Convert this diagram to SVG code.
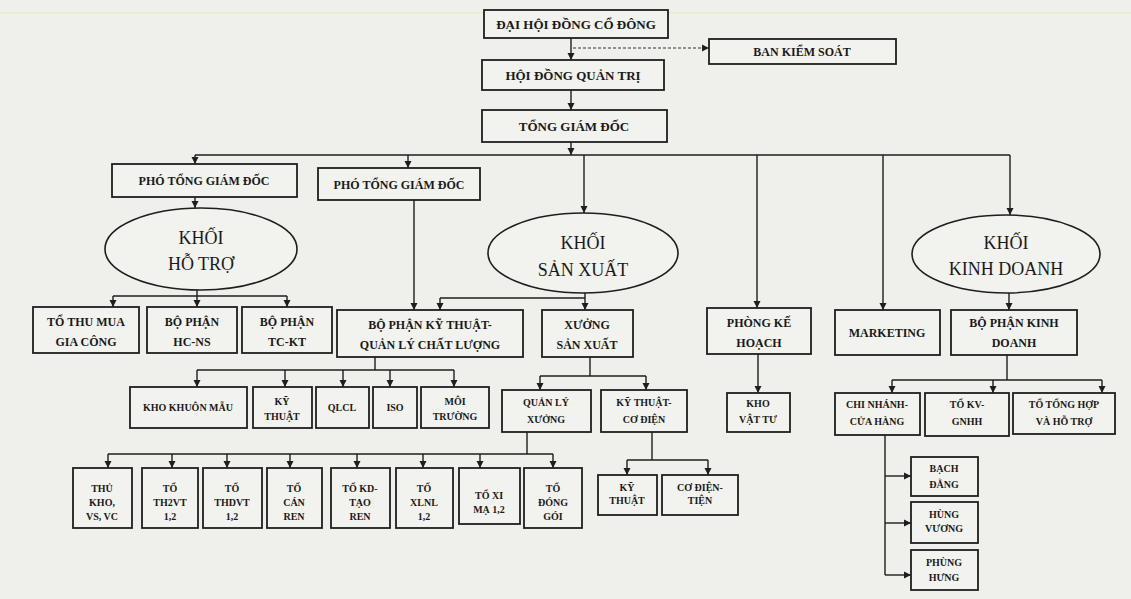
<svg xmlns="http://www.w3.org/2000/svg" width="1131" height="599" viewBox="0 0 1131 599">
<defs>
<style>
.bg{fill:#efefeb}
.box{fill:#f2f2ef;stroke:#1e1e1e;stroke-width:1.8}
.ell{fill:#f2f2ef;stroke:#1e1e1e;stroke-width:1.6}
.c{fill:none;stroke:#1e1e1e;stroke-width:1.4}
.a{fill:none;stroke:#1e1e1e;stroke-width:1.4;marker-end:url(#ah)}
.d{fill:none;stroke:#333;stroke-width:1.2;stroke-dasharray:3 2;marker-end:url(#ah)}
text{font-family:"Liberation Serif","DejaVu Serif",serif;font-weight:bold;text-anchor:middle;fill:#1a1a1a}
.t13{font-size:13px}
.t12{font-size:12px}
.t11{font-size:11px}
.t10{font-size:10px}
.e{font-size:18px;font-weight:normal}
</style>
<marker id="ah" markerWidth="8" markerHeight="8" refX="7" refY="4" orient="auto" markerUnits="userSpaceOnUse">
<path d="M0,0.5 L7,4 L0,7.5 z" fill="#1e1e1e"/>
</marker>
</defs>
<rect class="bg" x="0" y="0" width="1131" height="599"/>
<line x1="0" y1="13" x2="1131" y2="13" stroke="#ecebc8" stroke-width="1.5"/>

<g id="connectors">
<line class="a" x1="571" y1="38" x2="571" y2="60"/>
<line class="d" x1="573" y1="48" x2="709" y2="48"/>
<line class="a" x1="571" y1="90" x2="571" y2="110"/>
<line class="a" x1="571" y1="142" x2="571" y2="155"/>
<line class="c" x1="195" y1="155" x2="1010" y2="155"/>
<line class="a" x1="195" y1="155" x2="195" y2="164"/>
<line class="a" x1="408" y1="155" x2="408" y2="168"/>
<line class="a" x1="584" y1="155" x2="584" y2="213"/>
<line class="a" x1="757" y1="155" x2="757" y2="308"/>
<line class="a" x1="883" y1="155" x2="883" y2="310"/>
<line class="a" x1="1010" y1="155" x2="1010" y2="215"/>
<line class="a" x1="195" y1="197" x2="195" y2="208"/>
<line class="c" x1="197" y1="290" x2="197" y2="296"/>
<line class="c" x1="113" y1="296" x2="287" y2="296"/>
<line class="a" x1="113" y1="296" x2="113" y2="307"/>
<line class="a" x1="197" y1="296" x2="197" y2="307"/>
<line class="a" x1="287" y1="296" x2="287" y2="307"/>
<line class="a" x1="414" y1="200" x2="414" y2="310"/>
<line class="c" x1="585" y1="293" x2="585" y2="298"/>
<line class="c" x1="440" y1="298" x2="585" y2="298"/>
<line class="a" x1="440" y1="298" x2="440" y2="310"/>
<line class="a" x1="585" y1="298" x2="585" y2="310"/>
<line class="c" x1="375" y1="357" x2="375" y2="370"/>
<line class="c" x1="197" y1="370" x2="454" y2="370"/>
<line class="a" x1="197" y1="370" x2="197" y2="387"/>
<line class="a" x1="285" y1="370" x2="285" y2="387"/>
<line class="a" x1="343" y1="370" x2="343" y2="387"/>
<line class="a" x1="390" y1="370" x2="390" y2="387"/>
<line class="a" x1="454" y1="370" x2="454" y2="387"/>
<line class="c" x1="590" y1="357" x2="590" y2="376"/>
<line class="c" x1="540" y1="376" x2="646" y2="376"/>
<line class="a" x1="540" y1="376" x2="540" y2="390"/>
<line class="a" x1="646" y1="376" x2="646" y2="390"/>
<line class="c" x1="527" y1="432" x2="527" y2="454"/>
<line class="c" x1="108" y1="454" x2="553" y2="454"/>
<line class="a" x1="108" y1="454" x2="108" y2="468"/>
<line class="a" x1="172" y1="454" x2="172" y2="468"/>
<line class="a" x1="227" y1="454" x2="227" y2="468"/>
<line class="a" x1="290" y1="454" x2="290" y2="468"/>
<line class="a" x1="357" y1="454" x2="357" y2="468"/>
<line class="a" x1="423" y1="454" x2="423" y2="468"/>
<line class="a" x1="480" y1="454" x2="480" y2="468"/>
<line class="a" x1="553" y1="454" x2="553" y2="468"/>
<line class="c" x1="652" y1="432" x2="652" y2="460"/>
<line class="c" x1="627" y1="460" x2="708" y2="460"/>
<line class="a" x1="627" y1="460" x2="627" y2="475"/>
<line class="a" x1="708" y1="460" x2="708" y2="475"/>
<line class="a" x1="758" y1="354" x2="758" y2="393"/>
<line class="a" x1="1009" y1="293" x2="1009" y2="310"/>
<line class="c" x1="1007" y1="355" x2="1007" y2="380"/>
<line class="c" x1="892" y1="380" x2="1102" y2="380"/>
<line class="a" x1="892" y1="380" x2="892" y2="393"/>
<line class="a" x1="993" y1="380" x2="993" y2="393"/>
<line class="a" x1="1102" y1="380" x2="1102" y2="393"/>
<line class="c" x1="885" y1="435" x2="885" y2="575"/>
<line class="a" x1="885" y1="476" x2="911" y2="476"/>
<line class="a" x1="885" y1="523" x2="911" y2="523"/>
<line class="a" x1="885" y1="575" x2="911" y2="575"/>
</g>

<g id="n-dhdcd"><rect class="box" x="484" y="10" width="184" height="28"/><text class="t13" x="576" y="29">ĐẠI HỘI ĐỒNG CỔ ĐÔNG</text></g>
<g id="n-bks"><rect class="box" x="709" y="39" width="187" height="25"/><text class="t12" x="802" y="56">BAN KIỂM SOÁT</text></g>
<g id="n-hdqt"><rect class="box" x="482" y="60" width="182" height="30"/><text class="t13" x="573" y="80">HỘI ĐỒNG QUẢN TRỊ</text></g>
<g id="n-tgd"><rect class="box" x="482" y="110" width="185" height="32"/><text class="t13" x="574" y="131">TỔNG GIÁM ĐỐC</text></g>
<g id="n-ptgd1"><rect class="box" x="112" y="164" width="185" height="33"/><text class="t12" x="204" y="185">PHÓ TỔNG GIÁM ĐỐC</text></g>
<g id="n-ptgd2"><rect class="box" x="318" y="168" width="162" height="32"/><text class="t12" x="399" y="189">PHÓ TỔNG GIÁM ĐỐC</text></g>

<g id="n-kht"><ellipse class="ell" cx="201" cy="249" rx="96" ry="41"/><text class="e" x="201" y="244">KHỐI</text><text class="e" x="201" y="270">HỖ TRỢ</text></g>
<g id="n-ksx"><ellipse class="ell" cx="583" cy="253" rx="95" ry="40"/><text class="e" x="583" y="249">KHỐI</text><text class="e" x="583" y="276">SẢN XUẤT</text></g>
<g id="n-kkd"><ellipse class="ell" cx="1006" cy="254" rx="94" ry="39"/><text class="e" x="1006" y="249">KHỐI</text><text class="e" x="1006" y="275">KINH DOANH</text></g>

<g id="n-ttmgc"><rect class="box" x="33" y="307" width="106" height="46"/><text class="t12" x="86" y="326">TỔ THU MUA</text><text class="t12" x="86" y="346">GIA CÔNG</text></g>
<g id="n-hcns"><rect class="box" x="147" y="307" width="90" height="46"/><text class="t12" x="192" y="326">BỘ PHẬN</text><text class="t12" x="192" y="346">HC-NS</text></g>
<g id="n-tckt"><rect class="box" x="242" y="307" width="90" height="46"/><text class="t12" x="287" y="326">BỘ PHẬN</text><text class="t12" x="287" y="346">TC-KT</text></g>
<g id="n-ktqlcl"><rect class="box" x="337" y="310" width="186" height="47"/><text class="t12" x="430" y="329">BỘ PHẬN KỸ THUẬT-</text><text class="t12" x="430" y="349">QUẢN LÝ CHẤT LƯỢNG</text></g>
<g id="n-xsx"><rect class="box" x="542" y="310" width="91" height="47"/><text class="t12" x="587" y="329">XƯỞNG</text><text class="t12" x="587" y="349">SẢN XUẤT</text></g>
<g id="n-pkh"><rect class="box" x="707" y="308" width="104" height="46"/><text class="t12" x="759" y="327">PHÒNG KẾ</text><text class="t12" x="759" y="347">HOẠCH</text></g>
<g id="n-mkt"><rect class="box" x="835" y="310" width="105" height="45"/><text class="t12" x="887" y="337">MARKETING</text></g>
<g id="n-bpkd"><rect class="box" x="951" y="310" width="126" height="45"/><text class="t12" x="1014" y="327">BỘ PHẬN KINH</text><text class="t12" x="1014" y="347">DOANH</text></g>

<g id="n-kkm"><rect class="box" x="130" y="387" width="117" height="41"/><text class="t10" x="188" y="411">KHO KHUÔN MẪU</text></g>
<g id="n-kt1"><rect class="box" x="253" y="387" width="59" height="41"/><text class="t10" x="282" y="405">KỸ</text><text class="t10" x="282" y="420">THUẬT</text></g>
<g id="n-qlcl"><rect class="box" x="316" y="387" width="53" height="41"/><text class="t10" x="342" y="411">QLCL</text></g>
<g id="n-iso"><rect class="box" x="373" y="387" width="44" height="41"/><text class="t10" x="395" y="411">ISO</text></g>
<g id="n-mt"><rect class="box" x="421" y="387" width="68" height="41"/><text class="t10" x="455" y="405">MÔI</text><text class="t10" x="455" y="420">TRƯỜNG</text></g>

<g id="n-qlx"><rect class="box" x="502" y="390" width="89" height="42"/><text class="t10" x="546" y="406">QUẢN LÝ</text><text class="t10" x="546" y="423">XƯỞNG</text></g>
<g id="n-ktcd"><rect class="box" x="601" y="390" width="86" height="42"/><text class="t10" x="644" y="406">KỸ THUẬT-</text><text class="t10" x="644" y="423">CƠ ĐIỆN</text></g>
<g id="n-kvt"><rect class="box" x="727" y="393" width="63" height="39"/><text class="t10" x="758" y="407">KHO</text><text class="t10" x="758" y="423">VẬT TƯ</text></g>

<g id="n-cnch"><rect class="box" x="835" y="393" width="85" height="42"/><text class="t10" x="877" y="408">CHI NHÁNH-</text><text class="t10" x="877" y="425">CỬA HÀNG</text></g>
<g id="n-tkv"><rect class="box" x="925" y="393" width="84" height="43"/><text class="t10" x="967" y="408">TỔ KV-</text><text class="t10" x="967" y="425">GNHH</text></g>
<g id="n-tth"><rect class="box" x="1013" y="393" width="102" height="41"/><text class="t10" x="1064" y="408">TỔ TỔNG HỢP</text><text class="t10" x="1064" y="425">VÀ HỖ TRỢ</text></g>

<g id="n-bd"><rect class="box" x="911" y="457" width="67" height="39"/><text class="t10" x="944" y="472">BẠCH</text><text class="t10" x="944" y="488">ĐẰNG</text></g>
<g id="n-hv"><rect class="box" x="911" y="502" width="67" height="41"/><text class="t10" x="944" y="518">HÙNG</text><text class="t10" x="944" y="532">VƯƠNG</text></g>
<g id="n-ph"><rect class="box" x="911" y="550" width="67" height="40"/><text class="t10" x="944" y="566">PHÙNG</text><text class="t10" x="944" y="581">HƯNG</text></g>

<g id="n-tk"><rect class="box" x="73" y="468" width="59" height="60"/><text class="t10" x="102" y="492">THỦ</text><text class="t10" x="102" y="506">KHO,</text><text class="t10" x="102" y="520">VS, VC</text></g>
<g id="n-th2vt"><rect class="box" x="142" y="468" width="56" height="60"/><text class="t10" x="170" y="492">TỔ</text><text class="t10" x="170" y="506">TH2VT</text><text class="t10" x="170" y="520">1,2</text></g>
<g id="n-thdvt"><rect class="box" x="203" y="468" width="59" height="60"/><text class="t10" x="232" y="492">TỔ</text><text class="t10" x="232" y="506">THDVT</text><text class="t10" x="232" y="520">1,2</text></g>
<g id="n-tcr"><rect class="box" x="267" y="468" width="55" height="60"/><text class="t10" x="294" y="492">TỔ</text><text class="t10" x="294" y="506">CÁN</text><text class="t10" x="294" y="520">REN</text></g>
<g id="n-tkd"><rect class="box" x="331" y="468" width="59" height="60"/><text class="t10" x="360" y="492">TỔ KD-</text><text class="t10" x="360" y="506">TẠO</text><text class="t10" x="360" y="520">REN</text></g>
<g id="n-xlnl"><rect class="box" x="396" y="468" width="57" height="60"/><text class="t10" x="424" y="492">TỔ</text><text class="t10" x="424" y="506">XLNL</text><text class="t10" x="424" y="520">1,2</text></g>
<g id="n-xm"><rect class="box" x="459" y="468" width="61" height="56"/><text class="t10" x="489" y="499">TỔ XI</text><text class="t10" x="489" y="513">MẠ 1,2</text></g>
<g id="n-dg"><rect class="box" x="524" y="468" width="58" height="60"/><text class="t10" x="553" y="492">TỔ</text><text class="t10" x="553" y="506">ĐÓNG</text><text class="t10" x="553" y="520">GÓI</text></g>

<g id="n-kt2"><rect class="box" x="598" y="475" width="59" height="40"/><text class="t10" x="627" y="491">KỸ</text><text class="t10" x="627" y="504">THUẬT</text></g>
<g id="n-cdt"><rect class="box" x="662" y="475" width="76" height="40"/><text class="t10" x="700" y="491">CƠ ĐIỆN-</text><text class="t10" x="700" y="504">TIỆN</text></g>
</svg>
